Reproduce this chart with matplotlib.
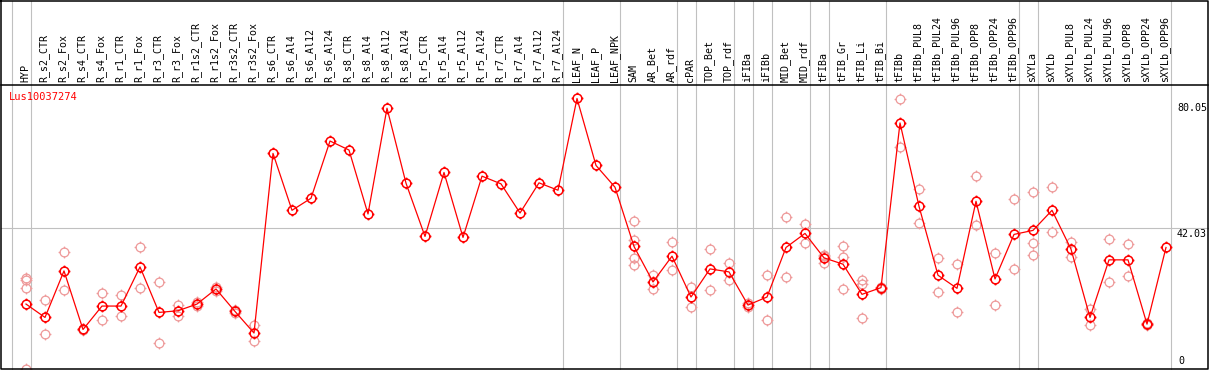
# Expression profile of one gene across sample conditions
# Output: out.png

import matplotlib
matplotlib.use('Agg')
import matplotlib.pyplot as plt
from matplotlib.path import Path

# define data
gene = 'Lus10037274'

samples = [
    'HYP', 'R_s2_CTR', 'R_s2_Fox', 'R_s4_CTR', 'R_s4_Fox', 'R_r1_CTR', 'R_r1_Fox',
    'R_r3_CTR', 'R_r3_Fox', 'R_r1s2_CTR', 'R_r1s2_Fox', 'R_r3s2_CTR', 'R_r3s2_Fox',
    'R_s6_CTR', 'R_s6_Al4', 'R_s6_Al12', 'R_s6_Al24', 'R_s8_CTR', 'R_s8_Al4',
    'R_s8_Al12', 'R_s8_Al24', 'R_r5_CTR', 'R_r5_Al4', 'R_r5_Al12', 'R_r5_Al24',
    'R_r7_CTR', 'R_r7_Al4', 'R_r7_Al12', 'R_r7_Al24', 'LEAF_N', 'LEAF_P', 'LEAF_NPK',
    'SAM', 'AR_Bet', 'AR_rdf', 'cPAR', 'TOP_Bet', 'TOP_rdf', 'iFIBa', 'iFIBb',
    'MID_Bet', 'MID_rdf', 'tFIBa', 'tFIB_Gr', 'tFIB_Li', 'tFIB_Bi', 'tFIBb',
    'tFIBb_PUL8', 'tFIBb_PUL24', 'tFIBb_PUL96', 'tFIBb_OPP8', 'tFIBb_OPP24',
    'tFIBb_OPP96', 'sXYLa', 'sXYLb', 'sXYLb_PUL8', 'sXYLb_PUL24', 'sXYLb_PUL96',
    'sXYLb_OPP8', 'sXYLb_OPP24', 'sXYLb_OPP96',
]

means = [
    19.4, 15.4, 29.3, 11.8, 18.8, 18.8, 30.5, 16.9, 17.4, 19.4, 23.9, 17.2, 10.75,
    64.4, 47.4, 51.0, 68.1, 65.4, 46.3, 77.9, 55.5, 39.6, 58.7, 39.3, 57.6,
    55.3, 46.6, 55.6, 53.4, 80.8, 60.8, 54.3,
    36.6, 26.0, 33.7, 21.5, 29.9, 29.0, 19.1, 21.5, 36.3, 40.5, 33.2, 31.3,
    22.3, 24.3, 73.5, 48.6, 28.0, 24.1, 50.1, 26.9, 40.2, 41.4, 47.4, 35.8,
    15.4, 32.6, 32.6, 13.4, 36.3,
]

replicates = [
    [27.3, 26.6, 24.1, 0.0], [20.6, 10.5], [34.8, 23.6], [12.0, 11.5], [22.6, 14.5],
    [22.1, 15.8], [36.3, 24.1], [25.9, 7.7], [19.1, 15.9], [20.0, 18.8], [24.5, 23.3],
    [17.6, 16.8], [13.1, 8.5],
    [], [], [], [], [], [], [], [], [], [], [], [], [], [], [], [],
    [], [], [],
    [44.2, 38.5, 33.2, 31.0], [28.1, 23.8], [37.8, 29.5], [24.5, 18.4], [35.7, 23.6],
    [31.7, 26.5], [19.6, 18.6], [28.0, 14.6], [45.3, 27.4], [43.2, 37.5],
    [34.0, 33.9, 31.6], [36.6, 33.4, 23.9], [26.7, 25.4, 15.1], [24.6, 24.0],
    [80.6, 66.2], [53.8, 43.5], [33.2, 22.9], [31.3, 16.9], [57.6, 43.0],
    [34.6, 19.1], [50.7, 29.9], [52.8, 37.5, 34.0], [54.3, 40.8], [37.8, 33.5],
    [17.9, 13.1], [38.7, 25.9], [37.2, 27.7], [13.8, 13.0], [],
]

# last sample of each group, a separator is drawn after it
group_ends = [-1, 0, 28, 31, 34, 35, 37, 38, 39, 41, 42, 45, 52, 53, 60]

scale_ticks = [80.05, 42.03]

# define constants
W, H = 1209, 370
X0, DX = 26, 19          # pixel x of first column, column spacing
Y0, DY = 369, 3.348      # pixel y of value 0, pixels per unit
RED = '#ff0000'
PINK = '#ee9a9a'
GREY = '#c0c0c0'
FONT = 'DejaVu Sans Mono'


def px_x(p):
    return (p - X0) / DX


def px_y(p):
    return (Y0 - p) / DY


def ring_marker():
    """
    Circle with four short ticks, like the original pixel marker
    """
    ticks = []
    for a, b in [((0, 1), (0, 1.35)), ((0, -1), (0, -1.35)),
                 ((1, 0), (1.35, 0)), ((-1, 0), (-1.35, 0))]:
        ticks.append(Path([a, b], [Path.MOVETO, Path.LINETO]))
    return Path.make_compound_path(Path.unit_circle(), *ticks)


def main():
    fig = plt.figure(figsize=(W / 100, H / 100), dpi=100)
    ax = fig.add_axes([0, 0, 1, 1])
    ax.set_xlim(px_x(0), px_x(W))
    ax.set_ylim(px_y(H), px_y(0))
    ax.axis('off')

    top, bottom = px_y(0.5), px_y(369)
    head = px_y(85)
    left, right = px_x(1), px_x(1207.5)

    # grid
    for g in group_ends:
        ax.plot([g + 0.24, g + 0.24], [bottom, top], color=GREY, lw=0.8, zorder=1)
    ax.plot([left, right], [scale_ticks[1], scale_ticks[1]], color=GREY, lw=0.8, zorder=1)

    # frame
    ax.plot([left, right, right, left, left], [top, top, bottom, bottom, top],
            color='black', lw=1.1, zorder=5, clip_on=False)
    ax.plot([left, right], [head, head], color='black', lw=1.1, zorder=5)

    # sample names
    for i, name in enumerate(samples):
        ax.text(i - 0.05, px_y(82.5), name, rotation=90, ha='center', va='bottom',
                fontsize=7.2, family=FONT, color='black')

    # replicates
    xs, ys = [], []
    for i, reps in enumerate(replicates):
        xs += [i] * len(reps)
        ys += reps
    mk = ring_marker()
    ax.plot(xs, ys, ls='none', marker=mk, ms=8.5, mfc='none', mec=PINK, mew=0.9, zorder=2)

    # mean profile
    x = list(range(len(samples)))
    ax.plot(x, means, color=RED, lw=0.9, zorder=3)
    ax.plot(x, means, ls='none', marker=mk, ms=8.5, mfc='none', mec=RED, mew=1.1, zorder=4)

    # labels
    ax.text(px_x(9), px_y(92), gene, ha='left', va='top', fontsize=7.5, family=FONT, color=RED)
    ax.text(px_x(1177), scale_ticks[0] - 0.6, f'{scale_ticks[0]:.2f}', ha='left', va='top',
            fontsize=7.2, family=FONT)
    ax.text(px_x(1177), scale_ticks[1] - 0.1, f'{scale_ticks[1]:.2f}', ha='left', va='top',
            fontsize=7.2, family=FONT)
    ax.text(px_x(1178), 0.8, '0', ha='left', va='bottom', fontsize=7.2, family=FONT)

    fig.savefig('out.png', dpi=100)


if __name__ == '__main__':
    main()
